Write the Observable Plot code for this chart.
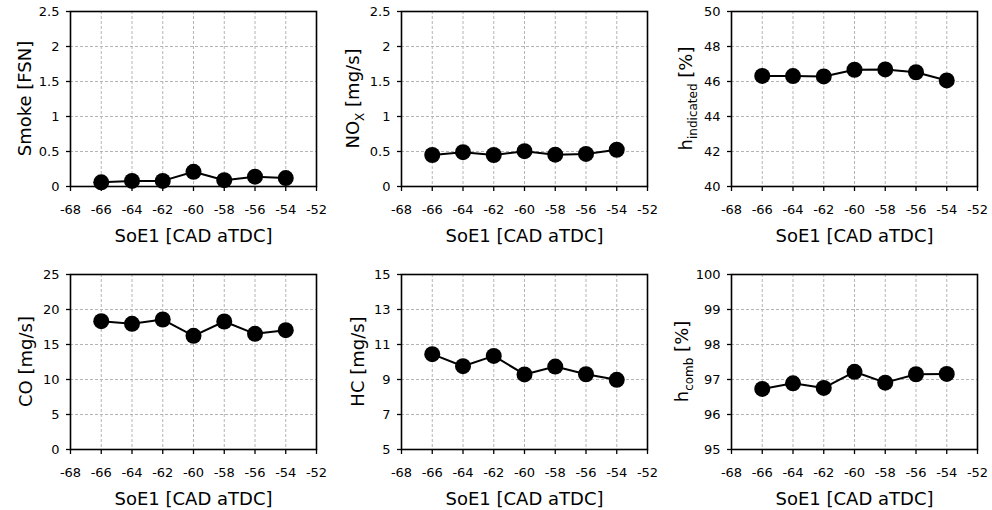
<!DOCTYPE html>
<html><head><meta charset="utf-8">
<script src="https://cdn.jsdelivr.net/npm/d3@7"></script>
<script src="https://cdn.jsdelivr.net/npm/@observablehq/plot@0.6"></script>
<style>
body{margin:0;background:#fff;}
#wrap{position:relative;width:992px;height:510px;overflow:hidden;}
.panel{position:absolute;}
.panel svg{overflow:visible;}
</style></head><body><div id="wrap"></div>
<script>
// ---- data ----
const soe = [-66, -64, -62, -60, -58, -56, -54];
const smoke = [0.06, 0.08, 0.08, 0.21, 0.09, 0.14, 0.12];
const nox = [0.45, 0.49, 0.45, 0.505, 0.455, 0.465, 0.525];
const etaInd = [46.32, 46.31, 46.29, 46.67, 46.69, 46.53, 46.06];
const co = [18.33, 17.95, 18.57, 16.24, 18.29, 16.52, 17.05];
const hc = [10.45, 9.76, 10.35, 9.29, 9.74, 9.30, 8.98];
const etaComb = [96.73, 96.89, 96.76, 97.22, 96.91, 97.15, 97.16];

const xTicks = [-68, -66, -64, -62, -60, -58, -56, -54, -52];
const smokeTicks = [0, 0.5, 1, 1.5, 2, 2.5];
const noxTicks = [0, 0.5, 1, 1.5, 2, 2.5];
const etaIndTicks = [40, 42, 44, 46, 48, 50];
const coTicks = [0, 5, 10, 15, 20, 25];
const hcTicks = [5, 7, 9, 11, 13, 15];
const etaCombTicks = [95, 96, 97, 98, 99, 100];

const xLabel = "SoE1 [CAD aTDC]";
const smokeLabel = [["Smoke [FSN]", false]];
const noxLabel = [["NO", false], ["X", true], [" [mg/s]", false]];
const etaIndLabel = [["h", false], ["indicated", true], [" [%]", false]];
const coLabel = [["CO [mg/s]", false]];
const hcLabel = [["HC [mg/s]", false]];
const etaCombLabel = [["h", false], ["comb", true], [" [%]", false]];

// ---- layout ----
const panels = [
  {v: smoke, t: smokeTicks, lab: smokeLabel, left: 0, top: 0, w: 330, ml: 70, mr: 14, mt: 11, mb: 69, lx: 31},
  {v: nox, t: noxTicks, lab: noxLabel, left: 330, top: 0, w: 330, ml: 71, mr: 13, mt: 11, mb: 69, lx: 29},
  {v: etaInd, t: etaIndTicks, lab: etaIndLabel, left: 660, top: 0, w: 332, ml: 71, mr: 15, mt: 11, mb: 69, lx: 32},
  {v: co, t: coTicks, lab: coLabel, left: 0, top: 255, w: 330, ml: 70, mr: 14, mt: 19, mb: 61, lx: 32},
  {v: hc, t: hcTicks, lab: hcLabel, left: 330, top: 255, w: 330, ml: 71, mr: 13, mt: 19, mb: 61, lx: 34},
  {v: etaComb, t: etaCombTicks, lab: etaCombLabel, left: 660, top: 255, w: 332, ml: 71, mr: 15, mt: 19, mb: 61, lx: 28}
];

const FONT = "'DejaVu Sans', Verdana, sans-serif";
const wrap = document.getElementById("wrap");

panels.forEach(p => {
  const data = soe.map((x, i) => ({x, y: p.v[i]}));
  const H = 255;
  const chart = Plot.plot({
    width: p.w, height: H,
    marginLeft: p.ml, marginRight: p.mr, marginTop: p.mt, marginBottom: p.mb,
    style: {fontFamily: FONT, fontSize: "13px", color: "#000", background: "transparent", overflow: "visible"},
    x: {domain: [xTicks[0], xTicks[xTicks.length - 1]]},
    y: {domain: [p.t[0], p.t[p.t.length - 1]]},
    marks: [
      Plot.gridX(xTicks, {stroke: "#b4b4b4", strokeOpacity: 1, strokeWidth: 1, strokeDasharray: "3,2"}),
      Plot.gridY(p.t, {stroke: "#b4b4b4", strokeOpacity: 1, strokeWidth: 1, strokeDasharray: "3,2"}),
      Plot.frame({stroke: "#000", strokeWidth: 1.6}),
      Plot.axisX(xTicks, {tickSize: 5, tickPadding: 13, tickFormat: d => String(d), label: null, fontSize: 13, strokeWidth: 1.3}),
      Plot.axisY(p.t, {tickSize: 4, tickPadding: 7, tickFormat: d => String(d), label: null, fontSize: 13, strokeWidth: 1.3}),
      Plot.text([xLabel], {text: d => d, frameAnchor: "bottom", dy: 50, lineAnchor: "middle", fontSize: 18}),
      Plot.line(data, {x: "x", y: "y", stroke: "#000", strokeWidth: 2}),
      Plot.dot(data, {x: "x", y: "y", r: 8, fill: "#000", stroke: "none"})
    ]
  });
  const div = document.createElement("div");
  div.className = "panel";
  div.style.left = p.left + "px";
  div.style.top = p.top + "px";
  div.appendChild(chart);
  wrap.appendChild(div);

  // y-axis label with subscripts
  const cy = p.mt + (H - p.mt - p.mb) / 2;
  const t = d3.select(chart).append("text")
    .attr("transform", `translate(${p.lx},${cy}) rotate(-90)`)
    .attr("text-anchor", "middle")
    .attr("fill", "#000")
    .style("font-family", FONT)
    .style("font-size", "18px");
  let shifted = false;
  p.lab.forEach(([s, sub]) => {
    const ts = t.append("tspan").text(s);
    if (sub) { ts.style("font-size", "12px").attr("dy", 5); shifted = true; }
    else if (shifted) { ts.attr("dy", -5); shifted = false; }
  });
});
</script>
</body></html>
